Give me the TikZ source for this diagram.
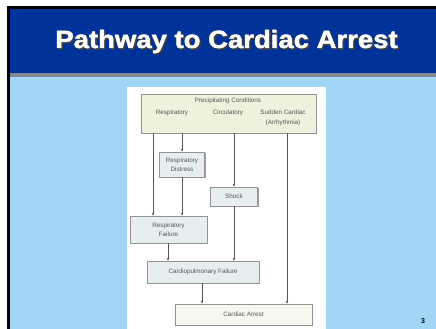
\documentclass[tikz,border=0pt]{standalone}
\usepackage{fontspec}
\setmainfont{Liberation Sans}
\newfontfamily\heavyfont[FakeBold=1.6]{Liberation Sans Bold}
\usetikzlibrary{shadows,arrows.meta}
\definecolor{band}{HTML}{003399}
\definecolor{sky}{HTML}{A3D5F7}
\definecolor{rulegray}{HTML}{7F8A94}
\definecolor{greenbox}{HTML}{EEF1DC}
\definecolor{bluebox}{HTML}{E6EEF0}
\definecolor{creambox}{HTML}{F7F7EE}
\definecolor{ink}{HTML}{555555}
\begin{document}
\begin{tikzpicture}[x=1pt,y=-1pt,
  box/.style={draw=gray!85, line width=0.6pt,
    drop shadow={shadow xshift=1.2pt,shadow yshift=-1.2pt,fill=gray!75,opacity=1},
    inner sep=0pt, font=\fontsize{6.3}{9.5}\selectfont, text=ink, align=center},
  lbl/.style={font=\fontsize{6.3}{9.5}\selectfont, text=ink, align=center, inner sep=0pt},
  arr/.style={draw=ink, line width=0.6pt, -{Stealth[length=3pt,width=2.5pt]}},
  ttl/.style={anchor=base, xscale=1.1, font=\heavyfont\fontsize{25}{28}\selectfont}]
\useasboundingbox (0,0) rectangle (436,329);
\fill[white] (0,0) rectangle (436,329);
\fill[band] (10,9) rectangle (436,73);
\fill[rulegray] (10,73) rectangle (436,77);
\fill[sky] (10,77) rectangle (436,329);
\fill[black] (7,6) rectangle (436,9);
\fill[black] (7,6) rectangle (10,329);
\fill[white] (127,87) rectangle (326,329);
% title
\node[ttl, text=black!75] (titleshadow) at (228,49.5) {Pathway to Cardiac Arrest};
\node[ttl, text=white] (title) at (226.5,48) {Pathway to Cardiac Arrest};
% boxes
\node[box, fill=greenbox, minimum width=175pt, minimum height=39pt] (prec) at (228.5,113.5) {};
\node[lbl] (prect) at (228,101) {Precipitating Conditions};
\node[lbl] (resp) at (172,113) {Respiratory};
\node[lbl] (circ) at (228,113) {Circulatory};
\node[lbl] (sudd) at (283,118) {Sudden Cardiac\\(Arrhythmia)};
\node[box, fill=bluebox, minimum width=45pt, minimum height=25pt] (rdist) at (182,164.5) {Respiratory\\Distress};
\node[box, fill=bluebox, minimum width=47pt, minimum height=19pt] (shock) at (234,196.5) {Shock};
\node[box, fill=bluebox, minimum width=77pt, minimum height=27pt] (rfail) at (168.5,229.5) {Respiratory\\Failure};
\node[box, fill=bluebox, minimum width=112pt, minimum height=22pt] (cpf) at (203,272) {Cardiopulmonary Failure};
\node[box, fill=creambox, minimum width=137pt, minimum height=21pt] (arrest) at (243.5,314.5) {Cardiac Arrest};
% connector columns
\coordinate (xa) at (153,0);
\coordinate (xb) at (182,0);
\coordinate (xc) at (234,0);
\coordinate (xd) at (287,0);
\coordinate (xe) at (168,0);
\coordinate (xf) at (202,0);
\draw[arr] (prec.south -| xa) -- (rfail.north -| xa);
\draw[arr] (prec.south -| xb) -- (rdist.north -| xb);
\draw[arr] (rdist.south -| xb) -- (rfail.north -| xb);
\draw[arr] (prec.south -| xc) -- (shock.north -| xc);
\draw[arr] (shock.south -| xc) -- (cpf.north -| xc);
\draw[arr] (prec.south -| xd) -- (arrest.north -| xd);
\draw[arr] (rfail.south -| xe) -- (cpf.north -| xe);
\draw[arr] (cpf.south -| xf) -- (arrest.north -| xf);
% page number
\node[font=\bfseries\fontsize{7}{8}\selectfont, text=black] (pnum) at (423,321) {3};
\end{tikzpicture}
\end{document}
